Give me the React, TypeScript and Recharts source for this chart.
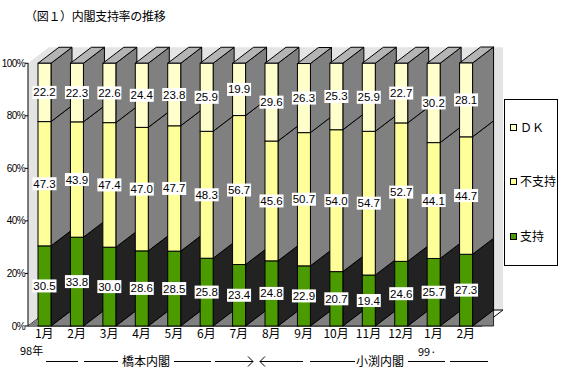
import { BarChart, Bar, XAxis, YAxis, LabelList, ReferenceArea } from "recharts"

const months = ["1月", "2月", "3月", "4月", "5月", "6月", "7月", "8月", "9月", "10月", "11月", "12月", "1月", "2月"]
const support = [30.5, 33.8, 30.0, 28.6, 28.5, 25.8, 23.4, 24.8, 22.9, 20.7, 19.4, 24.6, 25.7, 27.3]
const oppose = [47.3, 43.9, 47.4, 47.0, 47.7, 48.3, 56.7, 45.6, 50.7, 54.0, 54.7, 52.7, 44.1, 44.7]
const dk = [22.2, 22.3, 22.6, 24.4, 23.8, 25.9, 19.9, 29.6, 26.3, 25.3, 25.9, 22.7, 30.2, 28.1]
const yTicks = [0, 20, 40, 60, 80, 100]

const data = months.map((month, i) => ({
  key: `${month}-${i}`,
  month,
  support: support[i],
  oppose: oppose[i],
  dk: dk[i],
}))

// 3D depth of the bars
const DX = 21
const DY = 16

const GREEN = "#4a9a00"
const YELLOW = "#ffff99"
const CREAM = "#ffffcc"
const CJK = "'Noto Sans CJK JP', sans-serif"
const NUM = "'Liberation Sans', Arial, sans-serif"

function barShape(side: string, top: boolean, floor: boolean) {
  return (props: any) => {
    const { x, y, width, height, fill } = props
    const r = x + width
    const b = y + height
    return (
      <g>
        {floor && (
          <polygon points={`${r},${b} ${r + DX},${b} ${r + DX},${b - DY}`} fill="#808080" stroke="#000" strokeWidth={0.8} />
        )}
        <polygon
          points={`${r},${y} ${r + DX},${y - DY} ${r + DX},${b - DY} ${r},${b}`}
          fill={side}
          stroke="#000"
        />
        {top && (
          <polygon
            points={`${x},${y} ${x + DX},${y - DY} ${r + DX},${y - DY} ${r},${y}`}
            fill="#b4b4b4"
            stroke="#000"
          />
        )}
        <rect x={x} y={y} width={width} height={height} fill={fill} stroke="#000" />
      </g>
    )
  }
}

function Wall(props: any) {
  const { x, y, width, height } = props
  const b = y + height
  const r = x + width
  return (
    <g>
      <rect x={x + DX} y={y - DY} width={width} height={height} fill="#e4e4e4" />
      <polygon points={`${x},${y} ${x + DX},${y - DY} ${x + DX},${b - DY} ${x},${b}`} fill="#e4e4e4" />
      <polygon
        points={`${x},${b} ${x + DX},${b - DY} ${r + DX},${b - DY} ${r},${b}`}
        fill="#ffffff"
        stroke="#000"
      />
      <polygon points={`${x},${b} ${x + 9},${b} ${x + 9},${b - 7}`} fill="#808080" />
    </g>
  )
}

function renderLabel(props: any) {
  const { x, y, width, height, value } = props
  const cx = x + width / 2
  const cy = y + height / 2
  const w = 24
  const h = 13
  return (
    <g>
      <rect x={cx - w / 2} y={cy - h / 2} width={w} height={h} fill="#fff" />
      <text
        x={cx}
        y={cy + 4}
        textAnchor="middle"
        fontSize={11.5}
        fontFamily={NUM}
        fill="#000"
      >
        {Number(value).toFixed(1)}
      </text>
    </g>
  )
}

const legendItems = [
  { name: "ＤＫ", color: CREAM, top: 28 },
  { name: "不支持", color: YELLOW, top: 82 },
  { name: "支持", color: GREEN, top: 137 },
]

export default function App() {
  return (
    <div style={{ position: "absolute", left: 0, top: 0, width: 561, height: 370, background: "#fff" }}>
      <div
        style={{
          position: "absolute",
          left: 25,
          top: 8,
          fontSize: 12,
          fontFamily: CJK,
          lineHeight: "16px",
          color: "#000",
          letterSpacing: -0.3,
        }}
      >
        （図１）内閣支持率の推移
      </div>

      <BarChart
        width={561}
        height={370}
        data={data}
        margin={{ top: 63, right: 79, bottom: 24, left: 0 }}
        style={{ position: "absolute", left: 0, top: 0 }}
      >
        <ReferenceArea y1={0} y2={100} ifOverflow="visible" shape={Wall} />
        <XAxis
          dataKey="key"
          height={20}
          axisLine={false}
          tickLine={false}
          tickSize={0}
          tickMargin={3}
          interval={0}
          tickFormatter={(v: string) => v.split("-")[0]}
          tick={{ fontSize: 12, fill: "#000", fontFamily: CJK }}
        />
        <YAxis
          domain={[0, 100]}
          ticks={yTicks}
          width={28}
          tickSize={3}
          tickMargin={0}
          tickFormatter={(v: number) => `${v}%`}
          axisLine={{ stroke: "#000" }}
          tickLine={{ stroke: "#000" }}
          tick={{ fontSize: 10, fill: "#000", fontFamily: NUM, letterSpacing: -0.6 }}
        />
        <Bar
          dataKey="support"
          stackId="a"
          fill={GREEN}
          barSize={13}
          shape={barShape("#222222", false, true)}
          isAnimationActive={false}
        >
          <LabelList dataKey="support" content={renderLabel} />
        </Bar>
        <Bar
          dataKey="oppose"
          stackId="a"
          fill={YELLOW}
          barSize={13}
          shape={barShape("#808080", false, false)}
          isAnimationActive={false}
        >
          <LabelList dataKey="oppose" content={renderLabel} />
        </Bar>
        <Bar
          dataKey="dk"
          stackId="a"
          fill={CREAM}
          barSize={13}
          shape={barShape("#808080", true, false)}
          isAnimationActive={false}
        >
          <LabelList dataKey="dk" content={renderLabel} />
        </Bar>
      </BarChart>

      <div
        style={{
          position: "absolute",
          left: 504,
          top: 99,
          width: 54,
          height: 167,
          border: "1px solid #000",
          boxSizing: "border-box",
          background: "#fff",
          fontFamily: CJK,
          fontSize: 12,
        }}
      >
        {legendItems.map((it) => (
          <div key={it.name} style={{ position: "absolute", left: 5, top: it.top - 9, height: 16, display: "flex", alignItems: "center" }}>
            <span
              style={{
                display: "inline-block",
                width: 5,
                height: 5,
                border: "1px solid #000",
                background: it.color,
                marginRight: 3,
              }}
            />
            <span style={{ lineHeight: "16px", whiteSpace: "nowrap" }}>{it.name}</span>
          </div>
        ))}
      </div>

      <svg
        width={561}
        height={370}
        style={{ position: "absolute", left: 0, top: 0, pointerEvents: "none" }}
      >
        <g stroke="#000" strokeWidth={1}>
          <line x1={46} y1={361.5} x2={78} y2={361.5} />
          <line x1={84} y1={361.5} x2={118} y2={361.5} />
          <line x1={174} y1={361.5} x2={211} y2={361.5} />
          <line x1={215} y1={361.5} x2={253} y2={361.5} />
          <polyline points="248,356.5 253,361.5 248,366.5" fill="none" />
          <polyline points="265,356.5 260,361.5 265,366.5" fill="none" />
          <line x1={260} y1={361.5} x2={303} y2={361.5} />
          <line x1={310} y1={361.5} x2={355} y2={361.5} />
          <line x1={408} y1={361.5} x2={445} y2={361.5} />
          <line x1={450} y1={361.5} x2={488} y2={361.5} />
        </g>
        <g fontFamily={CJK} fontSize={11} fill="#000">
          <text x={20} y={355}>98年</text>
          <text x={418} y={356}>99·</text>
        </g>
        <g fontFamily={CJK} fontSize={12} fill="#000">
          <text x={122} y={366}>橋本内閣</text>
          <text x={356} y={366}>小渕内閣</text>
        </g>
      </svg>
    </div>
  )
}
